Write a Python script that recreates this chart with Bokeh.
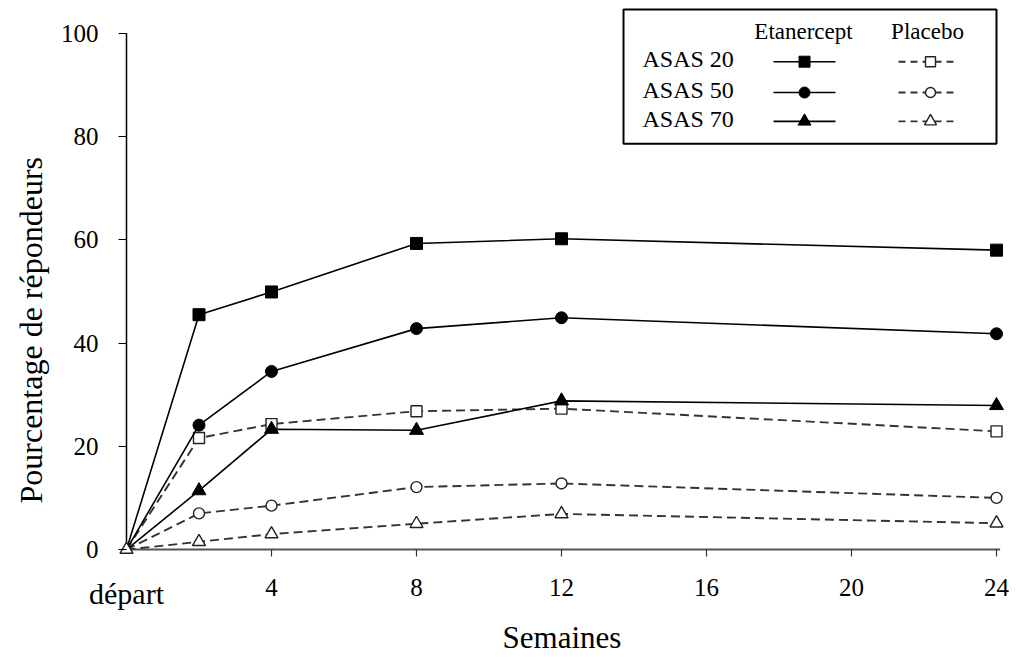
from bokeh.plotting import figure
from bokeh.models import Range1d, FixedTicker, Label, BoxAnnotation, LinearAxis, Title
from bokeh.embed import file_html
from bokeh.resources import INLINE

# ---------------- data ----------------
weeks = [0, 2, 4, 8, 12, 24]
etanercept_asas20 = [0, 45.5, 49.9, 59.3, 60.2, 58.0]
etanercept_asas50 = [0, 24.1, 34.5, 42.8, 44.9, 41.8]
etanercept_asas70 = [0, 11.4, 23.3, 23.1, 28.8, 27.9]
placebo_asas20 = [0, 21.6, 24.3, 26.8, 27.3, 22.9]
placebo_asas50 = [0, 7.0, 8.5, 12.1, 12.8, 10.0]
placebo_asas70 = [0, 1.5, 3.0, 5.0, 6.9, 5.1]

series_labels = ["ASAS 20", "ASAS 50", "ASAS 70"]
group_labels = ["Etanercept", "Placebo"]
x_ticks = [4, 8, 12, 16, 20, 24]
y_ticks = [0, 20, 40, 60, 80, 100]
x_title = "Semaines"
y_title = "Pourcentage de répondeurs"
start_label = "départ"

# ---------------- geometry (canvas px) ----------------
W, H = 1016, 657
FRAME_L, FRAME_R, FRAME_T, FRAME_B = 113, 1010, 5, 560
ORIGIN_X, ORIGIN_Y = 126, 552
PX_WEEK = 36.25
PX_UNIT = 5.19

x_start = -(ORIGIN_X - FRAME_L) / PX_WEEK
x_end = x_start + (FRAME_R - FRAME_L) / PX_WEEK
y_end = (ORIGIN_Y - FRAME_T) / PX_UNIT
y_start = y_end - (FRAME_B - FRAME_T) / PX_UNIT


def dx(px):
    return (px - ORIGIN_X) / PX_WEEK


def dy(py):
    return (ORIGIN_Y - py) / PX_UNIT


FONT = "Liberation Serif"

p = figure(width=W, height=H, x_range=Range1d(x_start, x_end),
           y_range=Range1d(y_start, y_end), output_backend="svg",
           toolbar_location=None, min_border_left=FRAME_L,
           min_border_right=W - FRAME_R, min_border_top=FRAME_T,
           min_border_bottom=H - FRAME_B)
p.grid.visible = False
p.outline_line_color = None
p.background_fill_color = "white"
p.border_fill_color = "white"

# ---------------- axes ----------------
xa = p.xaxis[0]
ya = p.yaxis[0]
xa.ticker = FixedTicker(ticks=x_ticks)
ya.ticker = FixedTicker(ticks=y_ticks)
for ax in (xa, ya):
    ax.axis_line_color = None
    ax.minor_tick_line_color = None
    ax.major_label_text_font = FONT
    ax.major_label_text_font_size = "25px"
    ax.major_label_text_color = "black"
    ax.major_tick_line_width = 1.2
# ticks pulled onto the zero lines (frame is padded so edge markers stay whole)
xa.major_tick_line_color = "#333333"
xa.major_tick_in = FRAME_B - ORIGIN_Y
xa.major_tick_out = -(FRAME_B - ORIGIN_Y) + 7
xa.major_label_standoff = 20 - xa.major_tick_out
ya.major_tick_line_color = "black"
ya.major_tick_in = ORIGIN_X - FRAME_L
ya.major_tick_out = -(ORIGIN_X - FRAME_L) + 8
ya.major_label_standoff = 10 - ya.major_tick_out

# outer bottom axis: "départ" start label + x title
xa2 = LinearAxis(ticker=FixedTicker(ticks=[weeks[0]]),
                 major_label_overrides={weeks[0]: start_label},
                 axis_line_color=None, major_tick_line_color=None,
                 minor_tick_line_color=None, major_tick_in=0, major_tick_out=0,
                 major_label_text_font=FONT, major_label_text_font_size="30px",
                 major_label_text_color="black", major_label_standoff=-22,
                 axis_label=x_title, axis_label_text_font=FONT,
                 axis_label_text_font_size="31px", axis_label_text_font_style="normal",
                 axis_label_text_color="black", axis_label_standoff=7)
p.add_layout(xa2, "below")

# y title, starting above the bottom of the frame as in the original
p.add_layout(Title(text=y_title, align="left", offset=FRAME_B - 506, standoff=18,
                   text_font=FONT, text_font_size="32px", text_font_style="normal",
                   text_color="black"), "left")

# axis lines at zero
p.segment(x0=[0], y0=[y_ticks[0]], x1=[0], y1=[y_ticks[-1]],
          line_color="black", line_width=1.5)
p.segment(x0=[0], y0=[0], x1=[x_ticks[-1] + 0.1], y1=[0],
          line_color="#555555", line_width=2)

# ---------------- series ----------------
placebo = [(placebo_asas20, "square"), (placebo_asas50, "circle"), (placebo_asas70, "triangle")]
etaner = [(etanercept_asas20, "square"), (etanercept_asas50, "circle"), (etanercept_asas70, "triangle")]
sizes = {"square": 12, "circle": 12, "triangle": 14}

for ys, m in placebo:
    p.line(weeks, ys, line_color="#333333", line_width=1.9, line_dash="9 5")
for ys, m in placebo:
    p.scatter(weeks[1:], ys[1:], marker=m, size=sizes[m] - 1, fill_color="white",
              line_color="#222222", line_width=1.4)
for ys, m in etaner:
    p.line(weeks, ys, line_color="black", line_width=1.6)
for ys, m in etaner:
    p.scatter(weeks[1:], ys[1:], marker=m, size=sizes[m], fill_color="black",
              line_color="black")
p.scatter([weeks[0]], [placebo_asas70[0]], marker="triangle", size=13,
          fill_color="white", line_color="#222222", line_width=1.4)

# ---------------- legend ----------------
p.add_layout(BoxAnnotation(left=dx(623), right=dx(996), top=dy(9), bottom=dy(144),
                           fill_color=None, line_color="black", line_alpha=1.0,
                           line_width=2))
p.add_layout(Label(x=dx(803), y=dy(31), text=group_labels[0], text_align="center",
                   text_baseline="middle", text_font=FONT, text_font_size="23px",
                   text_color="black"))
p.add_layout(Label(x=dx(927), y=dy(31), text=group_labels[1], text_align="center",
                   text_baseline="middle", text_font=FONT, text_font_size="23px",
                   text_color="black"))
row_y = [61.5, 92.5, 121.5]
for i, (lab, (ys_e, m), (ys_p, _)) in enumerate(zip(series_labels, etaner, placebo)):
    yy = dy(row_y[i])
    p.add_layout(Label(x=dx(642), y=dy(row_y[i] - 2.5), text=lab, text_align="left",
                       text_baseline="middle", text_font=FONT, text_font_size="24px",
                       text_color="black"))
    p.line([dx(773), dx(835)], [yy, yy], line_color="black", line_width=1.6)
    p.scatter([dx(804)], [yy], marker=m, size=sizes[m] - 1, fill_color="black",
              line_color="black")
    p.line([dx(898), dx(957)], [yy, yy], line_color="#333333", line_width=1.9,
           line_dash="7 5")
    p.scatter([dx(930)], [yy], marker=m, size=sizes[m] - 2, fill_color="white",
              line_color="#222222", line_width=1.4)

open("out.html", "w").write(file_html(p, INLINE))
